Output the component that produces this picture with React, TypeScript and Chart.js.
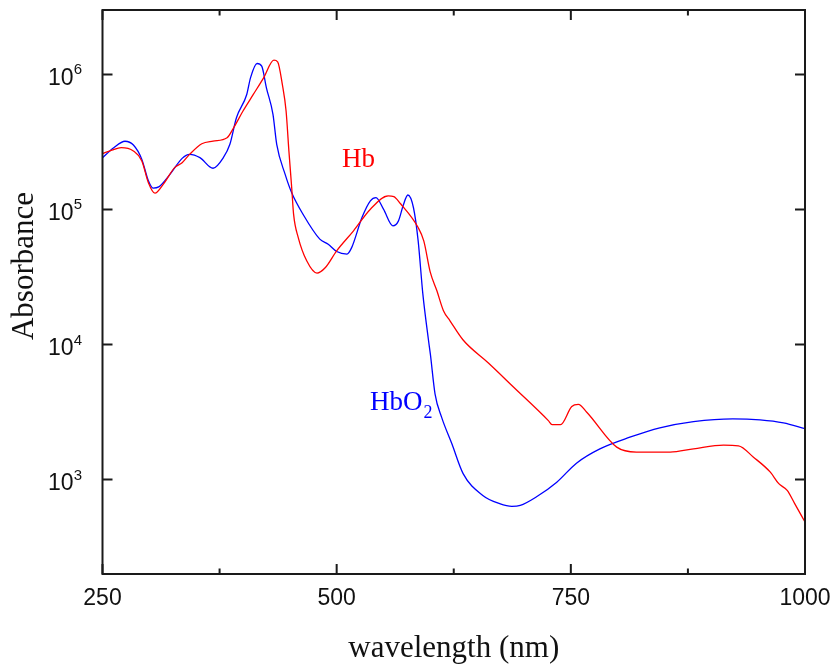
import React, { useEffect, useRef } from "react";
import { Chart, registerables } from "chart.js";

Chart.register(...registerables);

// Hb (deoxyhemoglobin) molar extinction
const hbWavelengths = [
  250, 260, 270, 283, 292, 299, 306, 315, 327, 335, 343, 356, 368, 383, 390,
  400, 411, 422, 433, 437, 442, 446, 449, 452, 454, 459, 468, 479, 488, 500,
  518, 536, 555, 561, 568, 587, 593, 600, 607, 614, 621, 635, 662, 689, 726,
  730, 739, 751, 758, 767, 799, 820, 856, 881, 913, 929, 945, 963, 972, 981,
  989, 1000,
];
const hbAbsorbance = [
  259000, 275000, 287000, 271000, 229000, 158000, 132000, 154000, 204000,
  222000, 256000, 307000, 321000, 340000, 403000, 536000, 711000, 944000,
  1276000, 1239000, 843000, 536000, 271000, 145000, 92300, 61900, 41700, 33800,
  37200, 49400, 69500, 100500, 126000, 124500, 110700, 73500, 58600, 34200,
  25000, 17800, 15000, 10800, 7300, 4830, 2735, 2550, 2550, 3475, 3600, 3155,
  1740, 1600, 1600, 1690, 1800, 1780, 1465, 1135, 933, 832, 664, 485,
];

// HbO2 (oxyhemoglobin)
const hbo2Wavelengths = [
  250, 262, 274, 283, 292, 299, 304, 310, 322, 335, 343, 354, 368, 379, 386,
  393, 404, 408, 415, 420, 425, 432, 436, 445, 452, 464, 482, 491, 500, 511,
  516, 527, 536, 542, 550, 560, 566, 571, 576, 582, 587, 592, 598, 600, 605,
  612, 623, 635, 656, 674, 687, 696, 713, 735, 756, 781, 813, 845, 881, 923,
  952, 977, 1000,
];
const hbo2Absorbance = [
  242000, 287000, 320000, 300000, 235000, 163000, 144000, 147000, 182000,
  239000, 256000, 242000, 202000, 242000, 304000, 478000, 711000, 944000,
  1205000, 1151000, 796000, 506000, 304000, 182000, 133000, 92300, 60300,
  55300, 48900, 46800, 52200, 87100, 115900, 122400, 100500, 75700, 82400,
  107000, 128000, 103000, 58600, 23700, 10800, 8530, 4320, 2900, 1840, 1107,
  764, 664, 634, 644, 743, 957, 1324, 1690, 2060, 2420, 2690, 2820, 2770, 2630,
  2380,
];

const xMajorTicks = [250, 500, 750, 1000];
const xMinorTicks = [375, 625, 875];
const yDecadeExponents = [3, 4, 5, 6];

const SANS = '"Liberation Sans", Arial, sans-serif';
const SERIF = '"Liberation Serif", "Times New Roman", serif';

export default function App() {
  const canvasRef = useRef<HTMLCanvasElement>(null);

  useEffect(() => {
    const canvas = canvasRef.current;
    if (!canvas) return;

    const framePlugin = {
      id: "framePlugin",
      afterDatasetsDraw(chart: any) {
        const { ctx, chartArea: a, scales } = chart;
        const xs = scales.x;
        const ys = scales.y;
        ctx.save();
        ctx.strokeStyle = "#1a1a1a";
        ctx.lineWidth = 2;
        ctx.strokeRect(a.left, a.top, a.right - a.left, a.bottom - a.top);

        ctx.beginPath();
        for (const v of xMajorTicks) {
          const px = xs.getPixelForValue(v);
          ctx.moveTo(px, a.bottom);
          ctx.lineTo(px, a.bottom - 10);
          ctx.moveTo(px, a.top);
          ctx.lineTo(px, a.top + 10);
        }
        for (const v of xMinorTicks) {
          const px = xs.getPixelForValue(v);
          ctx.moveTo(px, a.bottom);
          ctx.lineTo(px, a.bottom - 5.5);
          ctx.moveTo(px, a.top);
          ctx.lineTo(px, a.top + 5.5);
        }
        for (const e of yDecadeExponents) {
          const py = ys.getPixelForValue(Math.pow(10, e));
          ctx.moveTo(a.left, py);
          ctx.lineTo(a.left + 10, py);
          ctx.moveTo(a.right, py);
          ctx.lineTo(a.right - 10, py);
        }
        ctx.stroke();

        // x tick labels
        ctx.fillStyle = "#111";
        ctx.font = `23px ${SANS}`;
        ctx.textAlign = "center";
        ctx.textBaseline = "alphabetic";
        for (const v of xMajorTicks) {
          const px = xs.getPixelForValue(v);
          ctx.fillText(String(v), px, a.bottom + 31);
        }

        // y tick labels: 10^n
        for (const e of yDecadeExponents) {
          const py = ys.getPixelForValue(Math.pow(10, e));
          ctx.font = `15px ${SANS}`;
          const sup = String(e);
          const supW = ctx.measureText(sup).width;
          const rightEdge = 82;
          ctx.textAlign = "left";
          ctx.fillText(sup, rightEdge - supW, py);
          ctx.font = `23px ${SANS}`;
          ctx.textAlign = "right";
          ctx.fillText("10", rightEdge - supW, py + 10.8);
        }

        // axis titles
        ctx.font = `31px ${SERIF}`;
        ctx.textAlign = "center";
        ctx.fillText("wavelength (nm)", (a.left + a.right) / 2, 657);
        ctx.save();
        ctx.translate(33, 266);
        ctx.rotate(-Math.PI / 2);
        ctx.fillText("Absorbance", 0, 0);
        ctx.restore();

        // series labels
        ctx.textAlign = "left";
        ctx.font = `27px ${SERIF}`;
        ctx.fillStyle = "#ff0000";
        ctx.fillText("Hb", 342, 167);
        ctx.fillStyle = "#0000ff";
        ctx.fillText("HbO", 370, 410);
        const w = ctx.measureText("HbO").width;
        ctx.font = `18px ${SERIF}`;
        ctx.fillText("2", 370 + w + 1, 418);
        ctx.restore();
      },
    };

    const chart = new Chart(canvas, {
      type: "line",
      data: {
        datasets: [
          {
            label: "Hb",
            data: hbWavelengths.map((w, i) => ({ x: w, y: hbAbsorbance[i] })),
            borderColor: "#ff0000",
            borderWidth: 1.3,
            pointRadius: 0,
            cubicInterpolationMode: "monotone",
          },
          {
            label: "HbO2",
            data: hbo2Wavelengths.map((w, i) => ({ x: w, y: hbo2Absorbance[i] })),
            borderColor: "#0000ff",
            borderWidth: 1.3,
            pointRadius: 0,
            cubicInterpolationMode: "monotone",
          },
        ],
      },
      options: {
        animation: false,
        responsive: false,
        devicePixelRatio: 1,
        layout: { padding: { left: 102.5, right: 28, top: 10, bottom: 90 } },
        plugins: { legend: { display: false }, tooltip: { enabled: false } },
        scales: {
          x: { type: "linear", min: 250, max: 1000, display: false },
          y: { type: "logarithmic", min: 200, max: 3000000, display: false },
        },
      },
      plugins: [framePlugin],
    } as any);

    return () => chart.destroy();
  }, []);

  return (
    <div style={{ position: "fixed", left: 0, top: 0, width: 833, height: 664, background: "#fff" }}>
      <canvas ref={canvasRef} width={833} height={664} style={{ display: "block" }} />
    </div>
  );
}
